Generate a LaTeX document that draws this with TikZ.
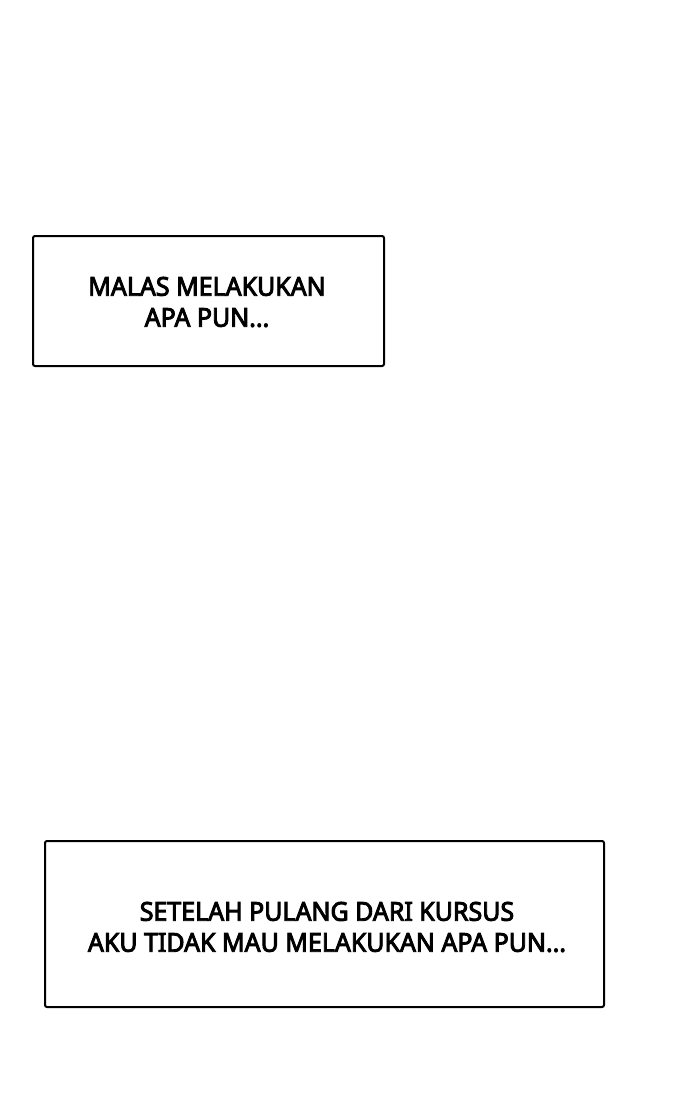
\documentclass[tikz,border=0pt]{standalone}
\usepackage{fontspec}
\newfontfamily\capfont[FakeStretch=0.96,FakeBold=3.5]{Noto Sans}
\begin{document}
\begin{tikzpicture}[x=1pt,y=-1pt,
  capbox/.style={draw=black,line width=2pt,rounded corners=2pt,fill=white},
  captext/.style={font=\capfont\fontsize{26}{31}\selectfont,align=center,inner sep=0pt}]
\useasboundingbox[fill=white] (0,0) rectangle (700,1100);
\draw[capbox] (33,236) rectangle (384,366);
\node[captext] (t1) at (207,302) {MALAS MELAKUKAN\\APA PUN...};
\draw[capbox] (45,841) rectangle (604,1007);
\node[captext] (t2) at (327,927) {SETELAH PULANG DARI KURSUS\\AKU TIDAK MAU MELAKUKAN APA PUN...};
\end{tikzpicture}
\end{document}
